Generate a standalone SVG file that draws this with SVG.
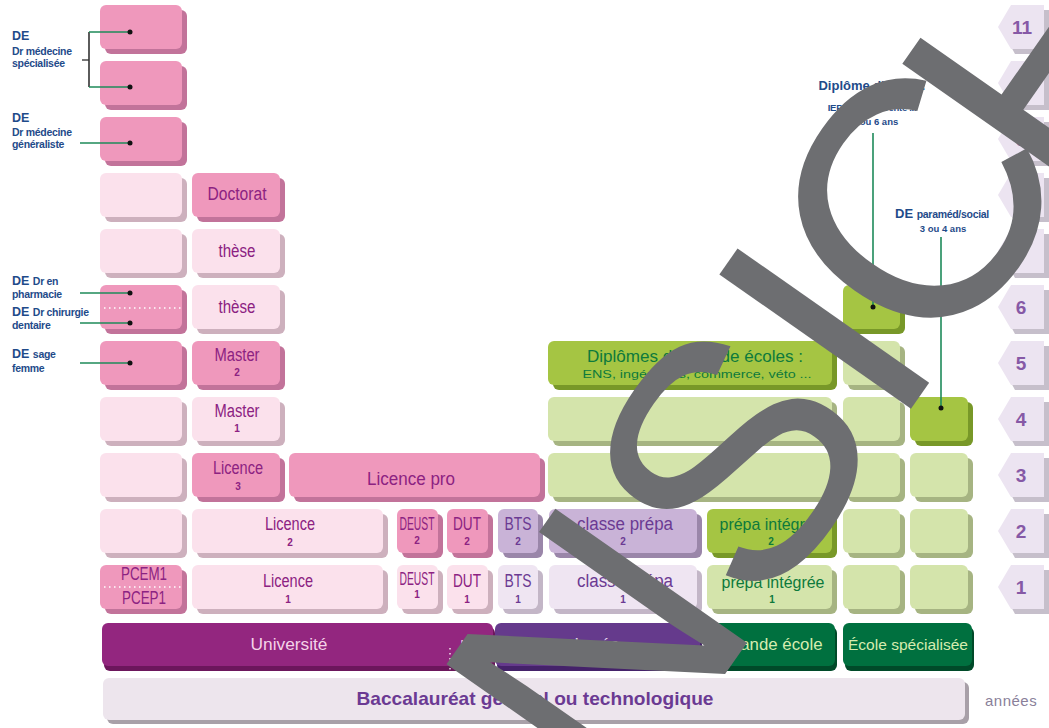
<svg xmlns="http://www.w3.org/2000/svg" width="1049" height="728" viewBox="0 0 1049 728">
<style>
.pk{fill:#ef98bc}.pks{fill:#c2739a}
.lp{fill:#fbe1ec}.lps{fill:#cdb0bd}
.lv{fill:#c9b3d7}.lvs{fill:#9a86a9}
.llv{fill:#efe5f2}.llvs{fill:#c3b6c7}
.dg{fill:#a5c543}.dgs{fill:#789828}
.lg{fill:#d4e4ab}.lgs{fill:#a6b482}
.un{fill:#93267f}.uns{fill:#6c165c}
.ly{fill:#653a8c}.lys{fill:#45226a}
.ge{fill:#00703f}.ges{fill:#004a29}
.bac{fill:#ede5ed}.bacs{fill:#a8a0a8}
.hx{fill:#ece4f1}.hxs{fill:#c6bfcb}
text{font-family:'Liberation Sans',Arial,sans-serif}
.c{text-anchor:middle}
.tp{fill:#8c2282;font-size:18px}
.tv{fill:#6b3a93;font-size:18px}
.tg{fill:#0d7a3c;font-size:17px}
.n{font-size:10px;font-weight:bold}
.lab{fill:#1f4b8a;font-weight:bold}
.de{font-size:12.5px}
.sm{font-size:10.5px;letter-spacing:-0.3px}
.hn{fill:#8659a6;font-size:19px;font-weight:bold;text-anchor:middle}
.ln{stroke:#1f8a5a;stroke-width:1.6;fill:none}
.dot{fill:#111}
.wd{stroke:#fff;stroke-width:1.3;stroke-dasharray:1.5 3.5;fill:none}
</style>

<!-- year hexagons -->
<g id="years">
<g id="y11"><polygon class="hxs" points="1002,30 1015,10 1049,10 1049,54 1015,54"/><polygon class="hx" points="998,27 1011,5 1044,5 1044,49 1011,49"/><text class="hn" x="1022" y="34">11</text></g>
<g id="y10"><polygon class="hxs" points="1002,86 1015,66 1049,66 1049,110 1015,110"/><polygon class="hx" points="998,83 1011,61 1044,61 1044,105 1011,105"/><text class="hn" x="1022" y="90">10</text></g>
<g id="y9"><polygon class="hxs" points="1002,142 1015,122 1049,122 1049,166 1015,166"/><polygon class="hx" points="998,139 1011,117 1044,117 1044,161 1011,161"/><text class="hn" x="1021" y="146">9</text></g>
<g id="y8"><polygon class="hxs" points="1002,198 1015,178 1049,178 1049,222 1015,222"/><polygon class="hx" points="998,195 1011,173 1044,173 1044,217 1011,217"/><text class="hn" x="1021" y="202">8</text></g>
<g id="y7"><polygon class="hxs" points="1002,254 1015,234 1049,234 1049,278 1015,278"/><polygon class="hx" points="998,251 1011,229 1044,229 1044,273 1011,273"/><text class="hn" x="1021" y="258">7</text></g>
<g id="y6"><polygon class="hxs" points="1002,310 1015,290 1049,290 1049,334 1015,334"/><polygon class="hx" points="998,307 1011,285 1044,285 1044,329 1011,329"/><text class="hn" x="1021" y="314">6</text></g>
<g id="y5"><polygon class="hxs" points="1002,366 1015,346 1049,346 1049,390 1015,390"/><polygon class="hx" points="998,363 1011,341 1044,341 1044,385 1011,385"/><text class="hn" x="1021" y="370">5</text></g>
<g id="y4"><polygon class="hxs" points="1002,422 1015,402 1049,402 1049,446 1015,446"/><polygon class="hx" points="998,419 1011,397 1044,397 1044,441 1011,441"/><text class="hn" x="1021" y="426">4</text></g>
<g id="y3"><polygon class="hxs" points="1002,478 1015,458 1049,458 1049,502 1015,502"/><polygon class="hx" points="998,475 1011,453 1044,453 1044,497 1011,497"/><text class="hn" x="1021" y="482">3</text></g>
<g id="y2"><polygon class="hxs" points="1002,534 1015,514 1049,514 1049,558 1015,558"/><polygon class="hx" points="998,531 1011,509 1044,509 1044,553 1011,553"/><text class="hn" x="1021" y="538">2</text></g>
<g id="y1"><polygon class="hxs" points="1002,590 1015,570 1049,570 1049,614 1015,614"/><polygon class="hx" points="998,587 1011,565 1044,565 1044,609 1011,609"/><text class="hn" x="1021" y="594">1</text></g>
<text x="985" y="706" fill="#8a7f9a" font-size="15" font-family="Lato,'Liberation Sans',sans-serif" letter-spacing="0.5">années</text>
</g>

<!-- column A -->
<g id="a11"><rect class="pks" x="105" y="10" width="82" height="44" rx="6"/><rect class="pk" x="100" y="5" width="82" height="44" rx="6"/></g>
<g id="a10"><rect class="pks" x="105" y="66" width="82" height="44" rx="6"/><rect class="pk" x="100" y="61" width="82" height="44" rx="6"/></g>
<g id="a9"><rect class="pks" x="105" y="122" width="82" height="44" rx="6"/><rect class="pk" x="100" y="117" width="82" height="44" rx="6"/></g>
<g id="a8"><rect class="lps" x="105" y="178" width="82" height="44" rx="6"/><rect class="lp" x="100" y="173" width="82" height="44" rx="6"/></g>
<g id="a7"><rect class="lps" x="105" y="234" width="82" height="44" rx="6"/><rect class="lp" x="100" y="229" width="82" height="44" rx="6"/></g>
<g id="a6"><rect class="pks" x="105" y="290" width="82" height="44" rx="6"/><rect class="pk" x="100" y="285" width="82" height="44" rx="6"/><line class="wd" x1="104" y1="308" x2="182" y2="308"/></g>
<g id="a5"><rect class="pks" x="105" y="346" width="82" height="44" rx="6"/><rect class="pk" x="100" y="341" width="82" height="44" rx="6"/></g>
<g id="a4"><rect class="lps" x="105" y="402" width="82" height="44" rx="6"/><rect class="lp" x="100" y="397" width="82" height="44" rx="6"/></g>
<g id="a3"><rect class="lps" x="105" y="458" width="82" height="44" rx="6"/><rect class="lp" x="100" y="453" width="82" height="44" rx="6"/></g>
<g id="a2"><rect class="lps" x="105" y="514" width="82" height="44" rx="6"/><rect class="lp" x="100" y="509" width="82" height="44" rx="6"/></g>
<g id="a1"><rect class="pks" x="105" y="570" width="82" height="44" rx="6"/><rect class="pk" x="100" y="565" width="82" height="44" rx="6"/><line class="wd" x1="104" y1="587" x2="182" y2="587"/><text class="c tp" x="144" y="580" font-size="13" textLength="46" lengthAdjust="spacingAndGlyphs">PCEM1</text><text class="c tp" x="144" y="604" font-size="13" textLength="44" lengthAdjust="spacingAndGlyphs">PCEP1</text></g>

<!-- column B -->
<g id="doctorat"><rect class="pks" x="197" y="178" width="88" height="44" rx="6"/><rect class="pk" x="192" y="173" width="88" height="44" rx="6"/><text class="c tp" x="237" y="200" textLength="59" lengthAdjust="spacingAndGlyphs">Doctorat</text></g>
<g id="these2"><rect class="lps" x="197" y="234" width="88" height="44" rx="6"/><rect class="lp" x="192" y="229" width="88" height="44" rx="6"/><text class="c tp" x="237" y="257" textLength="37" lengthAdjust="spacingAndGlyphs">thèse</text></g>
<g id="these1"><rect class="lps" x="197" y="290" width="88" height="44" rx="6"/><rect class="lp" x="192" y="285" width="88" height="44" rx="6"/><text class="c tp" x="237" y="313" textLength="37" lengthAdjust="spacingAndGlyphs">thèse</text></g>
<g id="master2"><rect class="pks" x="197" y="346" width="88" height="44" rx="6"/><rect class="pk" x="192" y="341" width="88" height="44" rx="6"/><text class="c tp" x="237" y="361" textLength="45" lengthAdjust="spacingAndGlyphs">Master</text><text class="c tp n" x="237" y="376">2</text></g>
<g id="master1"><rect class="lps" x="197" y="402" width="88" height="44" rx="6"/><rect class="lp" x="192" y="397" width="88" height="44" rx="6"/><text class="c tp" x="237" y="417" textLength="45" lengthAdjust="spacingAndGlyphs">Master</text><text class="c tp n" x="237" y="432">1</text></g>
<g id="licence3"><rect class="pks" x="197" y="458" width="88" height="44" rx="6"/><rect class="pk" x="192" y="453" width="88" height="44" rx="6"/><text class="c tp" x="238" y="474" textLength="50" lengthAdjust="spacingAndGlyphs">Licence</text><text class="c tp n" x="238" y="490">3</text></g>
<g id="licencepro"><rect class="pks" x="294" y="458" width="251" height="44" rx="6"/><rect class="pk" x="289" y="453" width="251" height="44" rx="6"/><text class="c tp" x="411" y="485" textLength="88" lengthAdjust="spacingAndGlyphs">Licence pro</text></g>
<g id="licence2"><rect class="lps" x="197" y="514" width="191" height="44" rx="6"/><rect class="lp" x="192" y="509" width="191" height="44" rx="6"/><text class="c tp" x="290" y="530" textLength="50" lengthAdjust="spacingAndGlyphs">Licence</text><text class="c tp n" x="290" y="546">2</text></g>
<g id="licence1"><rect class="lps" x="197" y="570" width="191" height="44" rx="6"/><rect class="lp" x="192" y="565" width="191" height="44" rx="6"/><text class="c tp" x="288" y="587" textLength="50" lengthAdjust="spacingAndGlyphs">Licence</text><text class="c tp n" x="288" y="603">1</text></g>

<!-- DEUST / DUT / BTS -->
<g id="deust2"><rect class="pks" x="402" y="514" width="41" height="44" rx="6"/><rect class="pk" x="397" y="509" width="41" height="44" rx="6"/><text class="c tp" x="417" y="530" font-size="10" textLength="35" lengthAdjust="spacingAndGlyphs">DEUST</text><text class="c tp n" x="417" y="544">2</text></g>
<g id="dut2"><rect class="pks" x="452" y="514" width="41" height="44" rx="6"/><rect class="pk" x="447" y="509" width="41" height="44" rx="6"/><text class="c tp" x="467" y="530" font-size="16" textLength="28" lengthAdjust="spacingAndGlyphs">DUT</text><text class="c tp n" x="467" y="545">2</text></g>
<g id="bts2"><rect class="lvs" x="503" y="514" width="40" height="44" rx="6"/><rect class="lv" x="498" y="509" width="40" height="44" rx="6"/><text class="c tv" x="518" y="530" font-size="16" textLength="27" lengthAdjust="spacingAndGlyphs">BTS</text><text class="c tv n" x="518" y="545">2</text></g>
<g id="deust1"><rect class="lps" x="402" y="570" width="41" height="44" rx="6"/><rect class="lp" x="397" y="565" width="41" height="44" rx="6"/><text class="c tp" x="417" y="585" font-size="10" textLength="35" lengthAdjust="spacingAndGlyphs">DEUST</text><text class="c tp n" x="417" y="598">1</text></g>
<g id="dut1"><rect class="lps" x="452" y="570" width="41" height="44" rx="6"/><rect class="lp" x="447" y="565" width="41" height="44" rx="6"/><text class="c tp" x="467" y="587" font-size="16" textLength="28" lengthAdjust="spacingAndGlyphs">DUT</text><text class="c tp n" x="467" y="603">1</text></g>
<g id="bts1"><rect class="llvs" x="503" y="570" width="40" height="44" rx="6"/><rect class="llv" x="498" y="565" width="40" height="44" rx="6"/><text class="c tv" x="518" y="587" font-size="16" textLength="27" lengthAdjust="spacingAndGlyphs">BTS</text><text class="c tv n" x="518" y="603">1</text></g>

<!-- classe prépa -->
<g id="prepa2"><rect class="lvs" x="554" y="514" width="148" height="44" rx="6"/><rect class="lv" x="549" y="509" width="148" height="44" rx="6"/><text class="c tv" x="625" y="530" textLength="96" lengthAdjust="spacingAndGlyphs">classe prépa</text><text class="c tv n" x="623" y="545">2</text></g>
<g id="prepa1"><rect class="llvs" x="554" y="570" width="148" height="44" rx="6"/><rect class="llv" x="549" y="565" width="148" height="44" rx="6"/><text class="c tv" x="625" y="587" textLength="96" lengthAdjust="spacingAndGlyphs">classe prépa</text><text class="c tv n" x="623" y="603">1</text></g>

<!-- green columns -->
<g id="integree2"><rect class="dgs" x="712" y="514" width="125" height="44" rx="6"/><rect class="dg" x="707" y="509" width="125" height="44" rx="6"/><text class="c tg" x="771" y="530" textLength="103" lengthAdjust="spacingAndGlyphs">prépa intégrée</text><text class="c tg n" x="771" y="545">2</text></g>
<g id="integree1"><rect class="lgs" x="712" y="570" width="125" height="44" rx="6"/><rect class="lg" x="707" y="565" width="125" height="44" rx="6"/><text class="c tg" x="773" y="588" textLength="103" lengthAdjust="spacingAndGlyphs">prépa intégrée</text><text class="c tg n" x="772" y="603">1</text></g>
<g id="gw3"><rect class="lgs" x="553" y="458" width="284" height="44" rx="6"/><rect class="lg" x="548" y="453" width="284" height="44" rx="6"/></g>
<g id="gw4"><rect class="lgs" x="553" y="402" width="284" height="44" rx="6"/><rect class="lg" x="548" y="397" width="284" height="44" rx="6"/></g>
<g id="diplomes"><rect class="dgs" x="553" y="346" width="284" height="44" rx="6"/><rect class="dg" x="548" y="341" width="284" height="44" rx="6"/><text class="c" x="695" y="362" fill="#0d7a3c" font-size="17" textLength="216" lengthAdjust="spacingAndGlyphs">Diplômes de grande écoles :</text><text class="c" x="697" y="378" fill="#0d7a3c" font-size="11.5" textLength="229" lengthAdjust="spacingAndGlyphs">ENS, ingénieurs, commerce, véto ...</text></g>
<g id="g1r1"><rect class="lgs" x="848" y="570" width="57" height="44" rx="6"/><rect class="lg" x="843" y="565" width="57" height="44" rx="6"/></g>
<g id="g1r2"><rect class="lgs" x="848" y="514" width="57" height="44" rx="6"/><rect class="lg" x="843" y="509" width="57" height="44" rx="6"/></g>
<g id="g1r3"><rect class="lgs" x="848" y="458" width="57" height="44" rx="6"/><rect class="lg" x="843" y="453" width="57" height="44" rx="6"/></g>
<g id="g1r4"><rect class="lgs" x="848" y="402" width="57" height="44" rx="6"/><rect class="lg" x="843" y="397" width="57" height="44" rx="6"/></g>
<g id="g1r5"><rect class="lgs" x="848" y="346" width="57" height="44" rx="6"/><rect class="lg" x="843" y="341" width="57" height="44" rx="6"/></g>
<g id="g1r6"><rect class="dgs" x="848" y="290" width="57" height="44" rx="6"/><rect class="dg" x="843" y="285" width="57" height="44" rx="6"/></g>
<g id="g2r1"><rect class="lgs" x="915" y="570" width="58" height="44" rx="6"/><rect class="lg" x="910" y="565" width="58" height="44" rx="6"/></g>
<g id="g2r2"><rect class="lgs" x="915" y="514" width="58" height="44" rx="6"/><rect class="lg" x="910" y="509" width="58" height="44" rx="6"/></g>
<g id="g2r3"><rect class="lgs" x="915" y="458" width="58" height="44" rx="6"/><rect class="lg" x="910" y="453" width="58" height="44" rx="6"/></g>
<g id="g2r4"><rect class="dgs" x="915" y="402" width="58" height="44" rx="6"/><rect class="dg" x="910" y="397" width="58" height="44" rx="6"/></g>

<!-- institutions -->
<g id="universite"><rect class="uns" x="104" y="627" width="391" height="44" rx="6"/><rect class="un" x="102" y="623" width="391" height="43" rx="6"/><line class="wd" x1="450" y1="648" x2="450" y2="670"/><text class="c" x="289" y="650" fill="#f4d3e8" font-size="17" textLength="77" lengthAdjust="spacingAndGlyphs">Université</text><text class="c" x="472" y="650" fill="#f4d3e8" font-size="15" textLength="24" lengthAdjust="spacingAndGlyphs">IUT</text></g>
<g id="lycee"><rect class="lys" x="497" y="627" width="205" height="44" rx="6"/><rect class="ly" x="495" y="623" width="205" height="43" rx="6"/><text class="c" x="597" y="650" fill="#e6d8ef" font-size="17" textLength="45" lengthAdjust="spacingAndGlyphs">Lycée</text></g>
<g id="grandeecole"><rect class="ges" x="709" y="627" width="128" height="44" rx="6"/><rect class="ge" x="707" y="623" width="128" height="43" rx="6"/><text class="c" x="772" y="650" fill="#d6ecb0" font-size="17" textLength="101" lengthAdjust="spacingAndGlyphs">Grande école</text></g>
<g id="ecolespec"><rect class="ges" x="845" y="627" width="129" height="44" rx="6"/><rect class="ge" x="843" y="623" width="129" height="43" rx="6"/><text class="c" x="908" y="650" fill="#d6ecb0" font-size="15" textLength="120" lengthAdjust="spacingAndGlyphs">École spécialisée</text></g>
<g id="bac"><rect class="bacs" x="107" y="682" width="862" height="42" rx="6"/><rect class="bac" x="103" y="678" width="862" height="42" rx="6"/><text class="c" x="535" y="705" fill="#6b3a93" font-size="19" font-family="Lato,'Liberation Sans',sans-serif" font-weight="bold" textLength="357" lengthAdjust="spacingAndGlyphs">Baccalauréat général ou technologique</text></g>

<!-- labels -->
<g id="lab-spec" class="lab"><text x="12" y="40" class="de">DE</text><text x="12" y="55" class="sm">Dr médecine</text><text x="12" y="67" class="sm">spécialisée</text></g>
<g id="lab-gen" class="lab"><text x="12" y="122" class="de">DE</text><text x="12" y="136" class="sm">Dr médecine</text><text x="12" y="148" class="sm">généraliste</text></g>
<g id="lab-pharma" class="lab"><text x="12" y="285" class="de">DE <tspan class="sm">Dr en</tspan></text><text x="12" y="298" class="sm">pharmacie</text></g>
<g id="lab-dent" class="lab"><text x="12" y="316" class="de">DE <tspan class="sm">Dr chirurgie</tspan></text><text x="12" y="329" class="sm">dentaire</text></g>
<g id="lab-sage" class="lab"><text x="12" y="358" class="de">DE <tspan class="sm">sage</tspan></text><text x="12" y="372" class="sm">femme</text></g>
<g id="lab-ecole" class="lab"><text class="c" x="872" y="90" font-size="13">Diplôme d'école :</text><text class="c" x="872" y="111" font-size="9.5" letter-spacing="-0.3">IEP, école de vente ...</text><text class="c" x="875" y="125" font-size="9.5">3 ou 6 ans</text></g>
<g id="lab-para" class="lab"><text class="c" x="942" y="218" font-size="13">DE <tspan font-size="10.5" letter-spacing="-0.3">paraméd/social</tspan></text><text class="c" x="943" y="232" font-size="9.5">3 ou 4 ans</text></g>

<!-- connectors -->
<g id="connectors">
<path d="M82,60 H89" stroke="#555" stroke-width="1.6" fill="none"/>
<path d="M89,32 V87" stroke="#333" stroke-width="1.6" fill="none"/>
<path class="ln" d="M89,32 H130 M89,87 H130 M80,143 H130 M80,293 H130 M80,323 H130 M80,363 H130 M873,133 V307 M941,237 V408"/>
<circle class="dot" cx="130" cy="32" r="2.5"/><circle class="dot" cx="130" cy="87" r="2.5"/><circle class="dot" cx="130" cy="143" r="2.5"/>
<circle class="dot" cx="130" cy="293" r="2.5"/><circle class="dot" cx="130" cy="323" r="2.5"/><circle class="dot" cx="130" cy="363" r="2.5"/>
<circle class="dot" cx="873" cy="307" r="2.5"/><circle class="dot" cx="941" cy="408" r="2.5"/>
</g>

<!-- watermark -->
<text id="watermark" transform="translate(492,1007) rotate(-55)" font-family="'Liberation Serif',serif" font-size="340" fill="#6d6e71">ANSI<tspan dx="-16" dy="4">C</tspan><tspan dx="-43" dy="25">HT</tspan></text>
</svg>
